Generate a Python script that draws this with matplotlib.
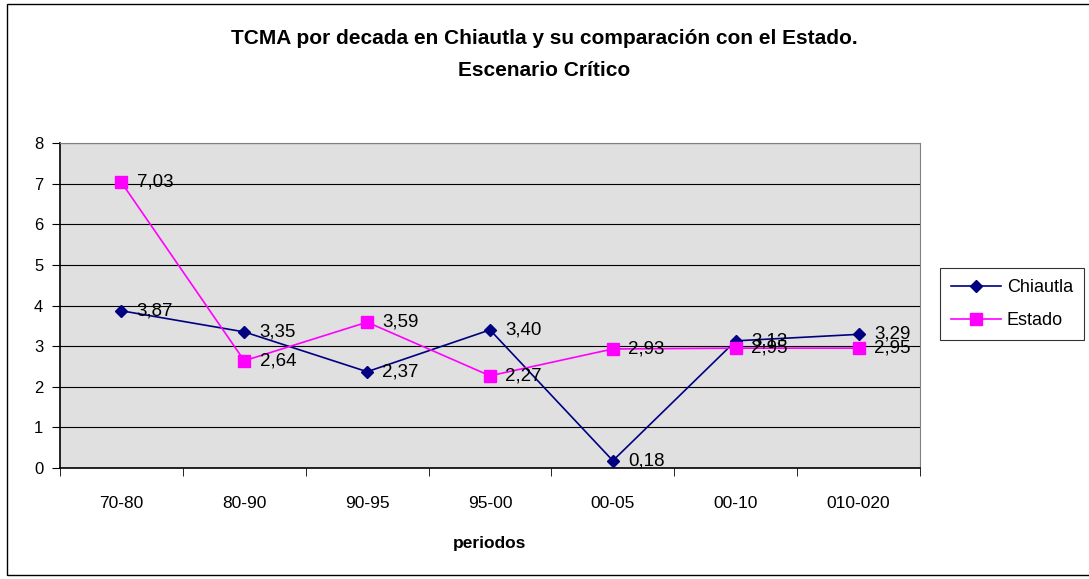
import matplotlib.pyplot as plt
import numpy as np
from matplotlib.patches import Rectangle

plt.rcParams['font.family'] = ['Liberation Sans', 'DejaVu Sans']

periodos = ['70-80', '80-90', '90-95', '95-00', '00-05', '00-10', '010-020']
chiautla = [3.87, 3.35, 2.37, 3.40, 0.18, 3.13, 3.29]
estado = [7.03, 2.64, 3.59, 2.27, 2.93, 2.95, 2.95]


def etiqueta(v):
    return f"{v:.2f}".replace('.', ',')


def main():
    fig = plt.figure(figsize=(10.89, 5.79), dpi=100)
    ax = fig.add_axes([60 / 1089, 1 - 468 / 579, 860 / 1089, 325 / 579])
    ax.set_facecolor('#e0e0e0')

    x = np.arange(len(periodos))
    ax.plot(x, chiautla, color='#000080', marker='D', markersize=6.5, lw=1.2,
            label='Chiautla', zorder=3)
    ax.plot(x, estado, color='#ff00ff', marker='s', markersize=8.5, lw=1.2,
            label='Estado', zorder=3)

    # etiquetas de datos a la derecha de cada punto
    for serie in (chiautla, estado):
        for xi, v in zip(x, serie):
            ax.annotate(etiqueta(v), (xi, v), xytext=(11, 0), textcoords='offset points',
                        va='center', ha='left', fontsize=13.5, zorder=4)

    ax.set_xlim(-0.5, len(periodos) - 0.5)
    ax.set_ylim(0, 8)
    ax.set_yticks(range(9))
    ax.yaxis.grid(True, color='black', lw=0.8)
    ax.set_axisbelow(True)

    ax.set_xticks(x)
    ax.set_xticklabels(periodos)
    ax.set_xticks(np.arange(len(periodos) + 1) - 0.5, minor=True)
    ax.tick_params(axis='x', which='major', length=0, pad=20, labelsize=12.5)
    ax.tick_params(axis='x', which='minor', length=6, color='black')
    ax.tick_params(axis='y', length=6, labelsize=12, pad=6)

    for s in ['top', 'right']:
        ax.spines[s].set_color('#808080')
    for s in ['left', 'bottom']:
        ax.spines[s].set_color('black')
        ax.spines[s].set_linewidth(1.2)

    ax.set_xlabel('periodos', fontsize=12.5, fontweight='bold', labelpad=18)

    fig.text(0.5, 1 - 38 / 579, 'TCMA por decada en Chiautla y su comparación con el Estado.',
             ha='center', va='center', fontsize=15, fontweight='bold')
    fig.text(0.5, 1 - 70 / 579, 'Escenario Crítico',
             ha='center', va='center', fontsize=15, fontweight='bold')

    leg = fig.legend(loc='upper left', bbox_to_anchor=(940 / 1089, 1 - 268 / 579),
                     fontsize=13, frameon=True, fancybox=False, handlelength=2.8,
                     handletextpad=0.3, labelspacing=0.9, borderpad=0.6,
                     borderaxespad=0)
    leg.get_frame().set_edgecolor('black')
    leg.get_frame().set_linewidth(0.8)

    fig.patches.append(Rectangle((7 / 1089, 4 / 579), 1.0, 1 - 8 / 579,
                                 transform=fig.transFigure, fill=False,
                                 edgecolor='black', lw=1))

    fig.savefig('out.png', dpi=100)


if __name__ == "__main__":
    main()
